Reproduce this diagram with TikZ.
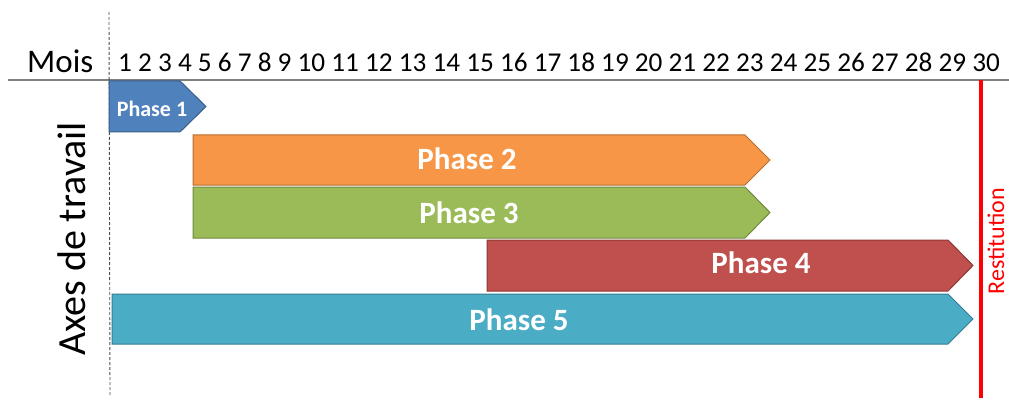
\documentclass[tikz,border=0pt]{standalone}
\usepackage{fontspec}
\setmainfont{Carlito}
\usetikzlibrary{positioning}

\definecolor{blueF}{HTML}{4F81BD}\definecolor{blueD}{HTML}{385D8A}
\definecolor{orangeF}{HTML}{F79646}\definecolor{orangeD}{HTML}{B66D31}
\definecolor{greenF}{HTML}{9BBB59}\definecolor{greenD}{HTML}{71893F}
\definecolor{redF}{HTML}{C0504D}\definecolor{redD}{HTML}{8C3836}
\definecolor{tealF}{HTML}{4BACC6}\definecolor{tealD}{HTML}{357D91}

\begin{document}
\begin{tikzpicture}[x=1pt,y=-1pt]
   \tikzset{bar/.style 2 args={fill=#1,draw=#2,line width=1pt,line join=miter},
            lbl/.style={text=white,font=\bfseries\fontsize{#1}{#1}\selectfont,inner sep=0pt,anchor=base}};
\useasboundingbox (0,0) rectangle (1009,401);

% axes
\draw[gray,line width=1.5pt] (8,80) -- (1009,80);
\draw[black!70,dashed,dash pattern=on 3pt off 2pt,line width=0.9pt] (109,12) -- (110,396);
\node[inner sep=0pt,anchor=base west,font=\fontsize{33}{33}\selectfont] (mois) at (27,73) {Mois};
\node[inner sep=0pt,anchor=base west,font=\fontsize{27.2}{27.2}\selectfont] (months) at (118,72) {1 2 3 4 5 6 7 8 9 10 11 12 13 14 15 16 17 18 19 20 21 22 23 24 25 26 27 28 29 30};
\node[inner sep=0pt,anchor=base,rotate=90,font=\fontsize{40}{40}\selectfont] (axes) at (85,239) {Axes de travail};

% phases
\draw[bar={blueF}{blueD}] (109,81) -- (180,81) -- (206,106.5) -- (180,132) -- (109,132) -- cycle;
\draw[bar={orangeF}{orangeD}] (193,135) -- (745,135) -- (770,160) -- (745,185) -- (193,185) -- cycle;
\draw[bar={greenF}{greenD}] (193,187) -- (745,187) -- (770,212.5) -- (745,238) -- (193,238) -- cycle;
\draw[bar={redF}{redD}] (487,240) -- (948,240) -- (973,265.5) -- (948,291) -- (487,291) -- cycle;
\draw[bar={tealF}{tealD}] (112,294) -- (948,294) -- (973,319) -- (948,344) -- (112,344) -- cycle;

\node[lbl=22] (p1) at (152,117) {Phase 1};
\node[lbl=31] (p2) at (467,169) {Phase 2};
\node[lbl=31] (p3) at (469,223) {Phase 3};
\node[lbl=31] (p4) at (761,273) {Phase 4};
\node[lbl=31] (p5) at (519,330) {Phase 5};

% restitution
\draw[red,line width=4.5pt] (981,80) -- (981,398);
\node[inner sep=0pt,anchor=base,rotate=90,text=red,font=\fontsize{24}{24}\selectfont] (restit) at (1004,241) {Restitution};

\end{tikzpicture}
\end{document}
